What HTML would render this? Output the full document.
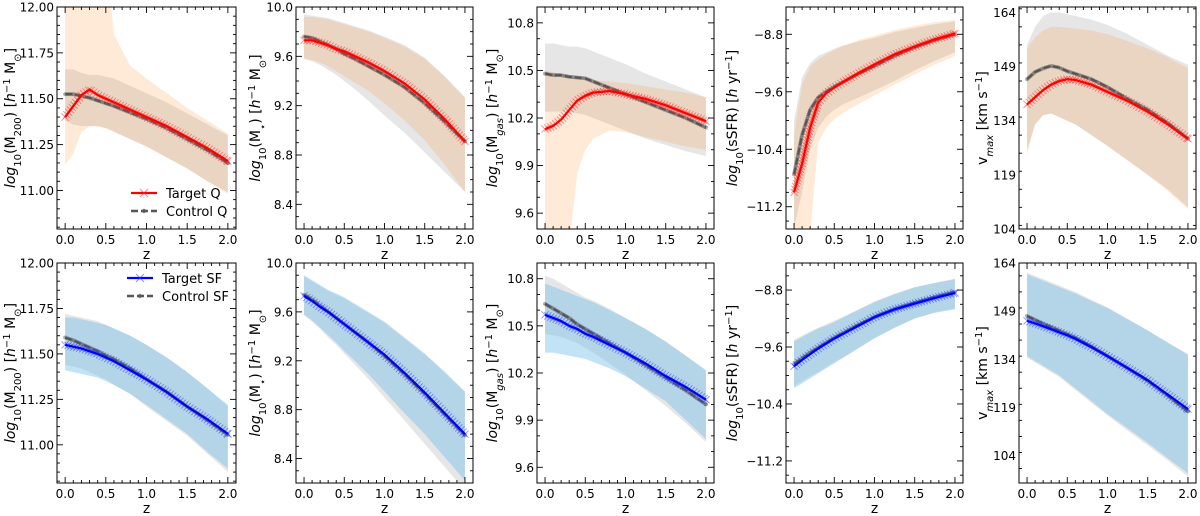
<!DOCTYPE html>
<html><head><meta charset="utf-8"><style>
html,body{margin:0;padding:0;background:#fff;width:1200px;height:516px;overflow:hidden}
svg{display:block;font-family:"DejaVu Sans","Liberation Sans",sans-serif}
</style></head><body>
<svg id="fig" width="1200" height="516" viewBox="0 0 1200 516" xmlns="http://www.w3.org/2000/svg"></svg>
<script>
// ---------- data ----------
const zGrid = [0,0.1,0.2,0.3,0.4,0.5,0.6,0.8,1.0,1.25,1.5,1.75,2.0];
const xTicks = [0,0.5,1,1.5,2];
const xTickLabels = ["0.0","0.5","1.0","1.5","2.0"];

// Panel 1: M200 quenched
const m200QTarget = [11.40,11.46,11.52,11.55,11.52,11.50,11.48,11.44,11.40,11.35,11.29,11.23,11.16];
const m200QControl = [11.525,11.525,11.515,11.505,11.49,11.475,11.46,11.425,11.39,11.34,11.28,11.22,11.15];
const m200QTargetLo = [11.14,11.20,11.32,11.35,11.35,11.34,11.32,11.28,11.24,11.18,11.12,11.05,10.98];
const m200QTargetHi = [12.5,12.5,12.5,12.5,12.5,12.3,11.85,11.68,11.61,11.53,11.45,11.38,11.31];
const m200QControlLo = [11.38,11.36,11.35,11.35,11.35,11.34,11.32,11.28,11.24,11.18,11.12,11.05,10.99];
const m200QControlHi = [11.66,11.66,11.64,11.63,11.63,11.62,11.61,11.57,11.53,11.48,11.42,11.36,11.30];
// Panel 2: Mstar quenched
const mstarQTarget = [9.73,9.73,9.71,9.69,9.66,9.64,9.61,9.55,9.48,9.38,9.25,9.09,8.91];
const mstarQControl = [9.76,9.75,9.72,9.69,9.66,9.62,9.59,9.52,9.45,9.35,9.22,9.07,8.91];
const mstarQTargetLo = [9.58,9.57,9.55,9.52,9.48,9.44,9.40,9.32,9.22,9.08,8.92,8.72,8.50];
const mstarQTargetHi = [9.92,9.92,9.91,9.90,9.88,9.86,9.84,9.80,9.75,9.68,9.58,9.43,9.26];
const mstarQControlLo = [9.58,9.56,9.53,9.49,9.45,9.40,9.35,9.24,9.12,8.98,8.82,8.66,8.50];
const mstarQControlHi = [9.94,9.93,9.92,9.91,9.89,9.87,9.85,9.81,9.76,9.69,9.59,9.44,9.27];
// Panel 3: Mgas quenched
const mgasQTarget = [10.13,10.15,10.19,10.25,10.31,10.34,10.36,10.37,10.35,10.32,10.28,10.23,10.18];
const mgasQControl = [10.48,10.47,10.47,10.46,10.455,10.45,10.43,10.39,10.35,10.30,10.25,10.20,10.14];
const mgasQTargetLo = [9.0,9.0,9.0,9.4,9.85,10.0,10.07,10.12,10.11,10.08,10.05,10.02,10.0];
const mgasQTargetHi = [10.50,10.49,10.48,10.46,10.45,10.44,10.44,10.43,10.42,10.40,10.38,10.36,10.33];
const mgasQControlLo = [10.24,10.24,10.24,10.24,10.23,10.22,10.20,10.16,10.12,10.07,10.03,9.99,9.96];
const mgasQControlHi = [10.67,10.67,10.66,10.65,10.65,10.64,10.62,10.58,10.54,10.48,10.43,10.38,10.33];
// Panel 4: sSFR quenched
const ssfrQTarget = [-11.0,-10.6,-10.1,-9.75,-9.62,-9.54,-9.47,-9.34,-9.22,-9.08,-8.97,-8.87,-8.79];
const ssfrQControl = [-10.75,-10.2,-9.85,-9.68,-9.6,-9.53,-9.47,-9.35,-9.24,-9.10,-8.98,-8.88,-8.80];
const ssfrQTargetLo = [-11.6,-11.6,-11.6,-10.3,-10.1,-9.98,-9.9,-9.77,-9.65,-9.5,-9.36,-9.22,-9.1];
const ssfrQTargetHi = [-10.2,-9.5,-9.25,-9.15,-9.08,-9.02,-8.97,-8.88,-8.82,-8.74,-8.68,-8.63,-8.60];
const ssfrQControlLo = [-11.5,-11.0,-10.4,-10.1,-9.95,-9.85,-9.78,-9.68,-9.58,-9.45,-9.3,-9.17,-9.05];
const ssfrQControlHi = [-10.0,-9.4,-9.2,-9.1,-9.05,-9.0,-8.96,-8.9,-8.85,-8.77,-8.71,-8.66,-8.62];
// Panel 5: vmax quenched
const vmaxQTarget = [138.5,140.5,142.5,144,145,145.5,145.3,144,142,139.5,136.5,133,129];
const vmaxQControl = [145.5,147.5,148.5,149.2,148.7,147.7,147,145.5,143.3,140,137,133.3,129];
const vmaxQTargetLo = [124.5,133,135.5,136,135,134,133,130,127,123,119,114.5,109.5];
const vmaxQTargetHi = [154,157,159,160,160,159.8,159.5,159,158,156,154,151.5,148.5];
const vmaxQControlLo = [126,133,135.5,136,135,134,133,130,127,123,119,115,110];
const vmaxQControlHi = [155,160,163,164,164,163.5,163,162,160.5,158,155,152,149.5];
// Panel 6: M200 star-forming
const m200STarget = [11.55,11.54,11.53,11.515,11.50,11.48,11.46,11.41,11.36,11.29,11.21,11.14,11.06];
const m200SControl = [11.59,11.575,11.555,11.535,11.515,11.49,11.47,11.42,11.36,11.29,11.21,11.135,11.055];
const m200STargetLo = [11.41,11.40,11.39,11.38,11.37,11.35,11.33,11.28,11.22,11.14,11.06,10.96,10.87];
const m200STargetHi = [11.70,11.70,11.69,11.68,11.67,11.66,11.64,11.60,11.55,11.48,11.40,11.31,11.22];
const m200SControlLo = [11.44,11.43,11.42,11.40,11.38,11.36,11.33,11.28,11.21,11.13,11.05,10.95,10.85];
const m200SControlHi = [11.72,11.71,11.70,11.69,11.68,11.66,11.64,11.60,11.55,11.48,11.40,11.31,11.21];
// Panel 7: Mstar star-forming
const mstarSTarget = [9.73,9.69,9.64,9.60,9.55,9.50,9.45,9.35,9.25,9.10,8.94,8.77,8.60];
const mstarSControl = [9.74,9.70,9.65,9.60,9.55,9.50,9.45,9.35,9.24,9.09,8.93,8.76,8.59];
const mstarSTargetLo = [9.58,9.53,9.47,9.41,9.35,9.28,9.22,9.09,8.95,8.77,8.60,8.41,8.22];
const mstarSTargetHi = [9.90,9.86,9.82,9.78,9.75,9.72,9.68,9.60,9.52,9.39,9.26,9.11,8.95];
const mstarSControlLo = [9.57,9.52,9.46,9.39,9.33,9.26,9.19,9.05,8.90,8.71,8.52,8.33,8.14];
const mstarSControlHi = [9.89,9.85,9.81,9.77,9.74,9.71,9.67,9.59,9.51,9.38,9.25,9.10,8.94];
// Panel 8: Mgas star-forming
const mgasSTarget = [10.57,10.55,10.53,10.50,10.48,10.45,10.43,10.38,10.33,10.26,10.18,10.11,10.03];
const mgasSControl = [10.64,10.61,10.58,10.55,10.51,10.48,10.45,10.39,10.33,10.25,10.17,10.09,10.00];
const mgasSTargetLo = [10.33,10.33,10.32,10.31,10.30,10.29,10.27,10.23,10.18,10.10,10.02,9.90,9.78];
const mgasSTargetHi = [10.77,10.75,10.73,10.71,10.69,10.67,10.65,10.60,10.55,10.48,10.40,10.31,10.22];
const mgasSControlLo = [10.45,10.44,10.43,10.41,10.39,10.36,10.33,10.26,10.19,10.09,9.99,9.88,9.76];
const mgasSControlHi = [10.82,10.80,10.77,10.74,10.71,10.68,10.66,10.61,10.55,10.48,10.40,10.31,10.21];
// Panel 9: sSFR star-forming
const ssfrSTarget = [-9.87,-9.78,-9.70,-9.62,-9.55,-9.48,-9.42,-9.30,-9.18,-9.07,-8.99,-8.91,-8.84];
const ssfrSControl = [-9.84,-9.76,-9.68,-9.61,-9.54,-9.47,-9.41,-9.29,-9.18,-9.07,-8.98,-8.90,-8.83];
const ssfrSTargetLo = [-10.18,-10.11,-10.04,-9.97,-9.90,-9.83,-9.76,-9.62,-9.48,-9.33,-9.20,-9.12,-9.07];
const ssfrSTargetHi = [-9.52,-9.46,-9.40,-9.34,-9.30,-9.25,-9.19,-9.08,-8.97,-8.86,-8.76,-8.70,-8.65];
const ssfrSControlLo = [-10.15,-10.08,-10.01,-9.95,-9.88,-9.81,-9.75,-9.61,-9.47,-9.33,-9.20,-9.11,-9.06];
const ssfrSControlHi = [-9.50,-9.44,-9.38,-9.33,-9.28,-9.23,-9.18,-9.07,-8.96,-8.85,-8.76,-8.70,-8.64];
// Panel 10: vmax star-forming
const vmaxSTarget = [146,145.2,144.3,143.4,142.4,141.5,140.4,137.8,135,131.3,127.5,123,118.5];
const vmaxSControl = [147.5,146.3,145.1,144,142.9,141.8,140.7,138,135,131.2,127.3,122.7,117.8];
const vmaxSTargetLo = [135,133.5,132,130.5,129,127,125,121,117,112.5,108,103.2,98.5];
const vmaxSTargetHi = [160.5,159.5,158.5,157.5,156.5,155.5,154.5,152.2,150,146.5,143,139.2,135.5];
const vmaxSControlLo = [134.5,133,131.5,130,128.5,126.5,124.5,120.5,116.5,111.8,107.2,102.5,97.5];
const vmaxSControlHi = [161,160,159,158,157,156,155,152.5,150.2,146.6,143,139.2,135.5];

// tick label arrays
const m200Ticks = [11.00,11.25,11.50,11.75,12.00];
const m200TickLabels = ["11.00","11.25","11.50","11.75","12.00"];
const mstarTicks = [8.4,8.8,9.2,9.6,10.0];
const mstarTickLabels = ["8.4","8.8","9.2","9.6","10.0"];
const mgasTicks = [9.6,9.9,10.2,10.5,10.8];
const mgasTickLabels = ["9.6","9.9","10.2","10.5","10.8"];
const ssfrTicks = [-11.2,-10.4,-9.6,-8.8];
const ssfrTickLabels = ["\u221211.2","\u221210.4","\u22129.6","\u22128.8"];
const vmaxTicks = [104,119,134,149,164];
const vmaxTickLabels = ["104","119","134","149","164"];

// ---------- layout ----------
const NS = "http://www.w3.org/2000/svg";
const svg = document.getElementById('fig');
function mk(tag, attrs, parent){
  const e = document.createElementNS(NS, tag);
  for (const k in attrs) e.setAttribute(k, attrs[k]);
  (parent||svg).appendChild(e);
  return e;
}
const cols = [[57,236],[296,473],[537,714],[786,963],[1019,1196]];
const rows = [[7,229],[263,483]];
const labelOff = [42,36,40,49,32];
const qColor = {line:'red', band:'rgba(255,127,14,0.16)', mk:'rgba(255,40,40,0.55)'};
const sColor = {line:'#0000ff', band:'rgba(120,190,235,0.45)', mk:'rgba(40,60,255,0.55)'};

const panels = [
 {c:0,r:0,name:'m200-quenched',ylim:[10.79,12.0],minor:0.05,ticks:m200Ticks,tl:m200TickLabels,ylab:'m200',col:qColor,
  t:m200QTarget,cm:m200QControl,tl0:m200QTargetLo,th:m200QTargetHi,cl:m200QControlLo,ch:m200QControlHi},
 {c:1,r:0,name:'mstar-quenched',ylim:[8.2,10.0],minor:0.1,ticks:mstarTicks,tl:mstarTickLabels,ylab:'mstar',col:qColor,
  t:mstarQTarget,cm:mstarQControl,tl0:mstarQTargetLo,th:mstarQTargetHi,cl:mstarQControlLo,ch:mstarQControlHi},
 {c:2,r:0,name:'mgas-quenched',ylim:[9.5,10.9],minor:0.1,ticks:mgasTicks,tl:mgasTickLabels,ylab:'mgas',col:qColor,
  t:mgasQTarget,cm:mgasQControl,tl0:mgasQTargetLo,th:mgasQTargetHi,cl:mgasQControlLo,ch:mgasQControlHi},
 {c:3,r:0,name:'ssfr-quenched',ylim:[-11.51,-8.42],minor:0.2,ticks:ssfrTicks,tl:ssfrTickLabels,ylab:'ssfr',col:qColor,
  t:ssfrQTarget,cm:ssfrQControl,tl0:ssfrQTargetLo,th:ssfrQTargetHi,cl:ssfrQControlLo,ch:ssfrQControlHi},
 {c:4,r:0,name:'vmax-quenched',ylim:[104,165.5],minor:5,ticks:vmaxTicks,tl:vmaxTickLabels,ylab:'vmax',col:qColor,
  t:vmaxQTarget,cm:vmaxQControl,tl0:vmaxQTargetLo,th:vmaxQTargetHi,cl:vmaxQControlLo,ch:vmaxQControlHi},
 {c:0,r:1,name:'m200-starforming',ylim:[10.79,12.0],minor:0.05,ticks:m200Ticks,tl:m200TickLabels,ylab:'m200',col:sColor,
  t:m200STarget,cm:m200SControl,tl0:m200STargetLo,th:m200STargetHi,cl:m200SControlLo,ch:m200SControlHi},
 {c:1,r:1,name:'mstar-starforming',ylim:[8.2,10.0],minor:0.1,ticks:mstarTicks,tl:mstarTickLabels,ylab:'mstar',col:sColor,
  t:mstarSTarget,cm:mstarSControl,tl0:mstarSTargetLo,th:mstarSTargetHi,cl:mstarSControlLo,ch:mstarSControlHi},
 {c:2,r:1,name:'mgas-starforming',ylim:[9.5,10.9],minor:0.1,ticks:mgasTicks,tl:mgasTickLabels,ylab:'mgas',col:sColor,
  t:mgasSTarget,cm:mgasSControl,tl0:mgasSTargetLo,th:mgasSTargetHi,cl:mgasSControlLo,ch:mgasSControlHi},
 {c:3,r:1,name:'ssfr-starforming',ylim:[-11.51,-8.42],minor:0.2,ticks:ssfrTicks,tl:ssfrTickLabels,ylab:'ssfr',col:sColor,
  t:ssfrSTarget,cm:ssfrSControl,tl0:ssfrSTargetLo,th:ssfrSTargetHi,cl:ssfrSControlLo,ch:ssfrSControlHi},
 {c:4,r:1,name:'vmax-starforming',ylim:[95.5,164],minor:5,ticks:vmaxTicks,tl:vmaxTickLabels,ylab:'vmax',col:sColor,
  t:vmaxSTarget,cm:vmaxSControl,tl0:vmaxSTargetLo,th:vmaxSTargetHi,cl:vmaxSControlLo,ch:vmaxSControlHi}
];

function ylabelHTML(kind){
  const sub = (s)=>'<tspan baseline-shift="sub" font-size="10">'+s+'</tspan>';
  const sup = (s)=>'<tspan baseline-shift="super" font-size="10">'+s+'</tspan>';
  const lg = '<tspan font-style="italic">log</tspan>'+sub('10');
  const unit = ' [<tspan font-style="italic">h</tspan>'+sup('\u22121')+' M'+sub('\u2299')+']';
  if(kind==='m200') return lg+'(M'+sub('200')+')'+unit;
  if(kind==='mstar') return lg+'(M'+sub('\u22c6')+')'+unit;
  if(kind==='mgas') return lg+'(M'+sub('<tspan font-style="italic">gas</tspan>')+')'+unit;
  if(kind==='ssfr') return lg+'(sSFR) [<tspan font-style="italic">h</tspan> yr'+sup('\u22121')+']';
  return 'v'+sub('<tspan font-style="italic">max</tspan>')+' [km s'+sup('\u22121')+']';
}

const defs = mk('defs',{});
panels.forEach((p,i)=>{
  const [x0,x1] = cols[p.c], [y0,y1] = rows[p.r];
  const X = v => x0 + (v+0.1)/2.2*(x1-x0);
  const Y = v => y1 - (v-p.ylim[0])/(p.ylim[1]-p.ylim[0])*(y1-y0);
  const g = mk('g',{});
  
  
  const cp = mk('clipPath',{id:'cp'+i},defs);
  mk('rect',{x:x0,y:y0,width:x1-x0,height:y1-y0},cp);
  const plot = mk('g',{'clip-path':'url(#cp'+i+')'},g);

  function band(lo,hi,fill,nm){
    let d='M'+zGrid.map((z,k)=>X(z)+','+Y(hi[k])).join(' L');
    for(let k=zGrid.length-1;k>=0;k--) d+=' L'+X(zGrid[k])+','+Y(lo[k]);
    const e = mk('path',{d:d+'Z',fill:fill,stroke:'none'},plot);
    
    
  }
  band(p.cl,p.ch,'rgba(128,128,128,0.2)','control-band');
  band(p.tl0,p.th,p.col.band,'target-band');

  function pts(arr){ return zGrid.map((z,k)=>[X(z),Y(arr[k])]); }
  function along(P,step){
    const out=[];let acc=0;out.push(P[0]);
    for(let k=1;k<P.length;k++){
      const dx=P[k][0]-P[k-1][0],dy=P[k][1]-P[k-1][1],L=Math.hypot(dx,dy);
      let s=step-acc;
      while(s<=L){out.push([P[k-1][0]+dx*s/L,P[k-1][1]+dy*s/L]);s+=step;}
      acc=(acc+L)%step;
    }
    out.push(P[P.length-1]);return out;
  }
  const cP = pts(p.cm);
  along(cP,2.2).forEach(q=>{
    const m = mk('circle',{cx:q[0],cy:q[1],r:2.0,fill:'rgba(90,90,90,0.5)',stroke:'none'},plot);
    
    
  });
  const cl = mk('polyline',{points:cP.map(q=>q.join(',')).join(' '),fill:'none',stroke:'#555','stroke-width':2.2,'stroke-dasharray':'7,3'},plot);
  
  
  const tP = pts(p.t);
  along(tP,3).forEach(q=>{
    const s=3.6;
    const m = mk('path',{d:`M${q[0]-s},${q[1]-s}L${q[0]+s},${q[1]+s}M${q[0]-s},${q[1]+s}L${q[0]+s},${q[1]-s}`,stroke:p.col.mk,'stroke-width':0.9,fill:'none'},plot);
    
    
  });
  const tl = mk('polyline',{points:tP.map(q=>q.join(',')).join(' '),fill:'none',stroke:p.col.line,'stroke-width':2.2},plot);
  
  

  const fr = mk('rect',{x:x0,y:y0,width:x1-x0,height:y1-y0,fill:'none',stroke:'#000','stroke-width':1},g);
  
  
  for(let v=0;v<=2.0001;v+=0.1){
    const xx=X(v), major=Math.abs(v*2-Math.round(v*2))<1e-6, L=major?6:3;
    mk('line',{x1:xx,y1:y1,x2:xx,y2:y1-L,stroke:'#000','stroke-width':0.9},g);
    mk('line',{x1:xx,y1:y0,x2:xx,y2:y0+L,stroke:'#000','stroke-width':0.9},g);
  }
  xTicks.forEach((v,k)=>{
    const t = mk('text',{x:X(v),y:y1+15,'font-size':12,'text-anchor':'middle',fill:'#000'},g);
    t.textContent = xTickLabels[k];
    
    
  });
  const xl = mk('text',{x:(x0+x1)/2,y:y1+30,'font-size':14,'text-anchor':'middle',fill:'#000'},g);
  xl.textContent='z';
  
  
  const lo=Math.ceil(p.ylim[0]/p.minor-1e-6), hi=Math.floor(p.ylim[1]/p.minor+1e-6);
  for(let k=lo;k<=hi;k++){
    const v=k*p.minor, yy=Y(v);
    const major=p.ticks.some(t=>Math.abs(t-v)<1e-6), L=major?6:3;
    mk('line',{x1:x0,y1:yy,x2:x0+L,y2:yy,stroke:'#000','stroke-width':0.9},g);
    mk('line',{x1:x1,y1:yy,x2:x1-L,y2:yy,stroke:'#000','stroke-width':0.9},g);
  }
  p.ticks.forEach((v,k)=>{
    const t = mk('text',{x:x0-3,y:Y(v)+4.5,'font-size':12,'text-anchor':'end',fill:'#000'},g);
    t.textContent = p.tl[k];
    
    
  });
  const cy=(y0+y1)/2, cx=x0-labelOff[p.c];
  const yl = mk('text',{x:0,y:0,'font-size':14,'text-anchor':'middle',fill:'#000',transform:`translate(${cx},${cy}) rotate(-90)`},g);
  yl.innerHTML = ylabelHTML(p.ylab);
  
  
});

function legend(lx,ly,col,tLabel,cLabel,nm){
  const g = mk('g',{});
  
  
  mk('line',{x1:lx,y1:ly,x2:lx+26,y2:ly,stroke:col.line,'stroke-width':2.2},g);
  const s=4;
  mk('path',{d:`M${lx+13-s},${ly-s}L${lx+13+s},${ly+s}M${lx+13-s},${ly+s}L${lx+13+s},${ly-s}`,stroke:col.mk,'stroke-width':1,fill:'none'},g);
  const t1 = mk('text',{x:lx+35,y:ly+5,'font-size':13,fill:'#000'},g);
  t1.textContent=tLabel;
  
  
  mk('line',{x1:lx,y1:ly+18,x2:lx+26,y2:ly+18,stroke:'#555','stroke-width':2.5,'stroke-dasharray':'7,3'},g);
  mk('circle',{cx:lx+13,cy:ly+18,r:2.2,fill:'rgba(90,90,90,0.7)'},g);
  const t2 = mk('text',{x:lx+35,y:ly+23,'font-size':13,fill:'#000'},g);
  t2.textContent=cLabel;
  
  
}
legend(131,193,qColor,'Target Q','Control Q','legend-quenched');
legend(127,278,sColor,'Target SF','Control SF','legend-starforming');
</script>
</body></html>
